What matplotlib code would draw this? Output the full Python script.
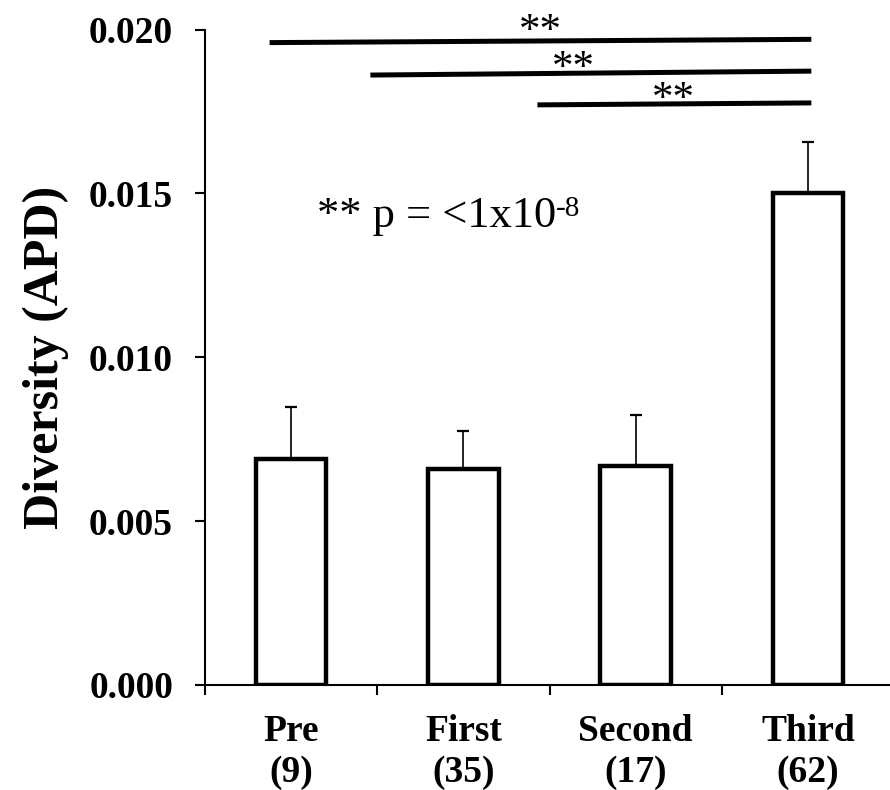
import matplotlib
matplotlib.use("Agg")
import matplotlib.pyplot as plt
import numpy as np

# data
groups = ["Pre", "First", "Second", "Third"]
counts = [9, 35, 17, 62]
diversity = [0.00690, 0.00660, 0.00668, 0.01501]
sem = [0.00157, 0.00114, 0.00157, 0.00156]

# significance bars (Third vs each other group)
sig_x_start = [-0.125, 0.46, 1.43]
sig_x_end = [3.02, 3.02, 3.02]
sig_y_start = [0.01960, 0.01861, 0.01770]
sig_y_end = [0.01970, 0.01873, 0.01776]
sig_star_x = [1.45, 1.64, 2.22]
sig_star_y = [0.01962, 0.01848, 0.01755]

plt.rcParams['font.family'] = ['Liberation Serif', 'DejaVu Serif']

fig = plt.figure(figsize=(8.9, 7.9), dpi=100)
ax = fig.add_axes([205/890, 105/790, 689/890, 655.5/790])

x = np.arange(len(groups))
ax.errorbar(x, diversity, yerr=sem, fmt='none', ecolor='black',
            elinewidth=1.2, capsize=4.5, capthick=1.6, zorder=1)
ax.bar(x, diversity, width=0.41, color='white', edgecolor='black',
       linewidth=3.2, zorder=2)

for xs, xe, ys, ye, sx, sy in zip(sig_x_start, sig_x_end, sig_y_start,
                                  sig_y_end, sig_star_x, sig_star_y):
    ax.plot([xs, xe], [ys, ye], color='black', lw=3.6,
            solid_capstyle='butt', clip_on=False, zorder=3)
    ax.text(sx, sy, "**", ha='center', va='baseline', fontsize=31,
            clip_on=False, zorder=4)

# p-value note, superscript as its own small text
note = ax.text(0.15, 0.01397, "** p = <1x10", ha='left', va='baseline',
               fontsize=32)
ax.annotate("-8", xy=(1.0, 1.0), xycoords=note, ha='left', va='top',
            fontsize=21)

ax.set_xlim(-0.5, 3.5)
ax.set_ylim(0, 0.020)
ax.set_yticks([0, 0.005, 0.010, 0.015, 0.020])
ax.set_yticklabels(["0.000", "0.005", "0.010", "0.015", "0.020"])
ax.set_xticks(x)
ax.set_xticklabels([f"{g}\n({n})" for g, n in zip(groups, counts)],
                   linespacing=1.2)
ax.set_xticks(np.arange(-0.5, 3.6, 1.0), minor=True)

ax.tick_params(axis='y', direction='out', length=7, width=1.5, pad=16,
               labelsize=27)
ax.tick_params(axis='x', which='major', length=0, pad=21, labelsize=27)
ax.tick_params(axis='x', which='minor', direction='out', length=7,
               width=1.5)
for lab in ax.get_xticklabels() + ax.get_yticklabels():
    lab.set_fontweight('bold')

ax.set_ylabel("Diversity (APD)", fontsize=36, fontweight='bold', labelpad=14)

for side in ['top', 'right']:
    ax.spines[side].set_visible(False)
for side in ['left', 'bottom']:
    ax.spines[side].set_linewidth(1.5)

fig.savefig("out.png", dpi=100)
